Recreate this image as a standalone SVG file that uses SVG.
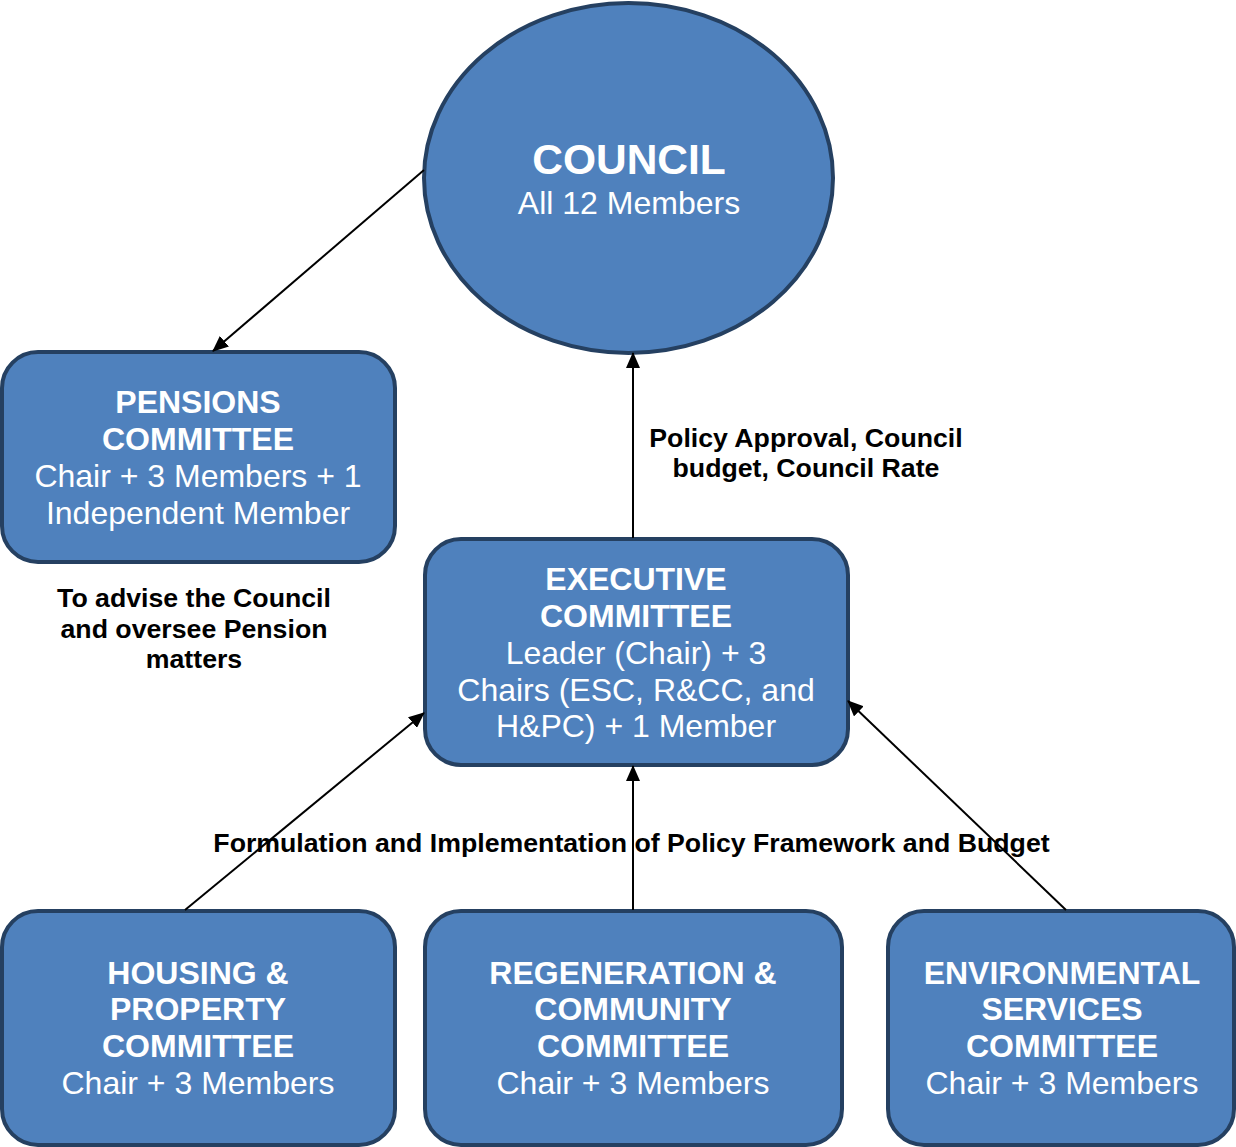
<svg xmlns="http://www.w3.org/2000/svg" width="1236" height="1147" viewBox="0 0 1236 1147">
<style>
.node{fill:#4F81BD;stroke:#254061;stroke-width:4}
.t{font-family:"Liberation Sans",Arial,sans-serif;fill:#fff;text-anchor:middle;font-size:32px}
.b{font-weight:bold}
.lbl{font-family:"Liberation Sans",Arial,sans-serif;fill:#000;font-weight:bold;font-size:26.7px;text-anchor:middle}
.c{stroke:#000;stroke-width:2;fill:none;marker-end:url(#ah)}
</style>
<defs>
<marker id="ah" markerUnits="userSpaceOnUse" markerWidth="16" markerHeight="14" refX="15" refY="7" orient="auto">
<path d="M0,0 L16,7 L0,14 Z" fill="#000"/>
</marker>
</defs>
<rect width="1236" height="1147" fill="#fff"/>
<g id="council">
<ellipse class="node" cx="628.5" cy="178" rx="204.5" ry="175"/>
<text class="t b" x="629" y="174" style="font-size:42.5px">COUNCIL</text>
<text class="t" x="629" y="214">All 12 Members</text>
</g>
<g id="pensions">
<rect class="node" x="2" y="352" width="393" height="210" rx="36"/>
<text class="t b" x="198" y="413">PENSIONS</text>
<text class="t b" x="198" y="450">COMMITTEE</text>
<text class="t" x="198" y="487">Chair + 3 Members + 1</text>
<text class="t" x="198" y="524">Independent Member</text>
</g>
<g id="executive">
<rect class="node" x="425" y="539" width="423" height="226" rx="36"/>
<text class="t b" x="636" y="590">EXECUTIVE</text>
<text class="t b" x="636" y="627">COMMITTEE</text>
<text class="t" x="636" y="664">Leader (Chair) + 3</text>
<text class="t" x="636" y="701">Chairs (ESC, R&amp;CC, and</text>
<text class="t" x="636" y="737">H&amp;PC) + 1 Member</text>
</g>
<g id="housing">
<rect class="node" x="2" y="911" width="393" height="234" rx="36"/>
<text class="t b" x="198" y="984">HOUSING &amp;</text>
<text class="t b" x="198" y="1020">PROPERTY</text>
<text class="t b" x="198" y="1057">COMMITTEE</text>
<text class="t" x="198" y="1094">Chair + 3 Members</text>
</g>
<g id="regeneration">
<rect class="node" x="425" y="911" width="417" height="234" rx="36"/>
<text class="t b" x="633" y="984">REGENERATION &amp;</text>
<text class="t b" x="633" y="1020">COMMUNITY</text>
<text class="t b" x="633" y="1057">COMMITTEE</text>
<text class="t" x="633" y="1094">Chair + 3 Members</text>
</g>
<g id="environmental">
<rect class="node" x="888" y="911" width="346" height="234" rx="36"/>
<text class="t b" x="1062" y="984">ENVIRONMENTAL</text>
<text class="t b" x="1062" y="1020">SERVICES</text>
<text class="t b" x="1062" y="1057">COMMITTEE</text>
<text class="t" x="1062" y="1094">Chair + 3 Members</text>
</g>
<g id="connectors">
<line class="c" x1="424" y1="170" x2="213" y2="351"/>
<line class="c" x1="633" y1="538" x2="633" y2="353"/>
<line class="c" x1="185" y1="910" x2="424" y2="713"/>
<line class="c" x1="633" y1="910" x2="633" y2="766"/>
<line class="c" x1="1066" y1="910" x2="848" y2="701"/>
</g>
<g id="labels">
<text class="lbl" x="806" y="447">Policy Approval, Council</text>
<text class="lbl" x="806" y="477">budget, Council Rate</text>
<text class="lbl" x="194" y="607">To advise the Council</text>
<text class="lbl" x="194" y="638">and oversee Pension</text>
<text class="lbl" x="194" y="668">matters</text>
<text class="lbl" x="631.5" y="852">Formulation and Implementation of Policy Framework and Budget</text>
</g>
</svg>
